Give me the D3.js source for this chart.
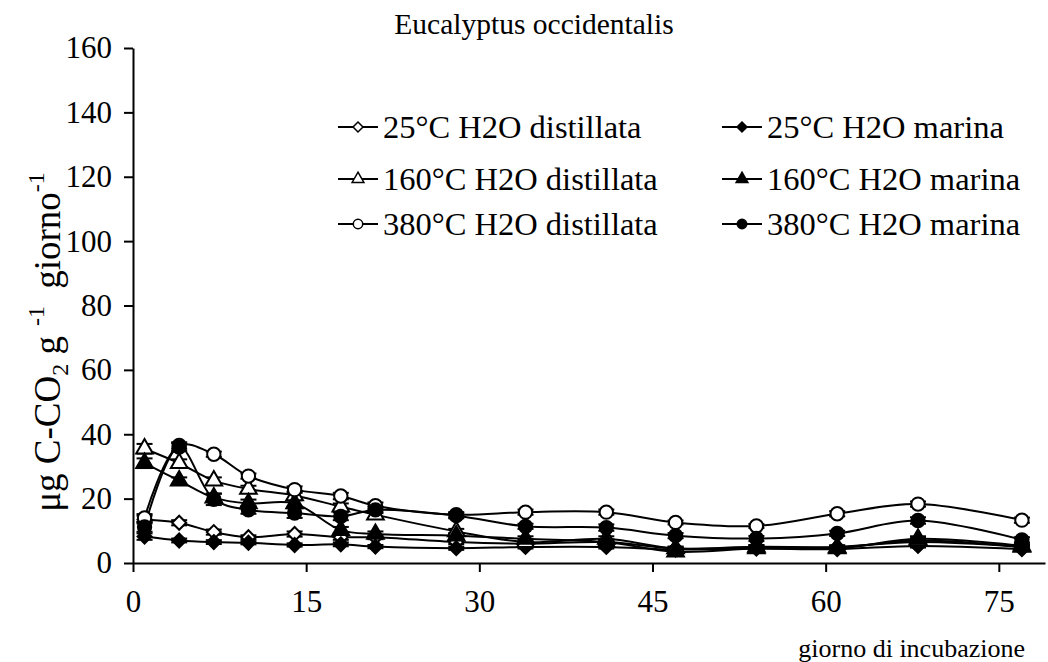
<!DOCTYPE html>
<html><head><meta charset="utf-8">
<script src="https://cdn.jsdelivr.net/npm/d3@7"></script>
<style>
html,body{margin:0;padding:0;background:#fff;}
svg{display:block;}
svg text{font-family:"Liberation Serif","Times New Roman",serif !important;fill:#000;}
</style></head>
<body>
<svg id="chart" width="1048" height="662"></svg>
<script>
const days = [1, 4, 7, 10, 14, 18, 21, 28, 34, 41, 47, 54, 61, 68, 77];
const xTicks = [0, 15, 30, 45, 60, 75];
const yTicks = [0, 20, 40, 60, 80, 100, 120, 140, 160];

const dist25 = [13.5, 12.5, 9.6, 8.0, 9.0, 8.0, 8.0, 6.5, 6.0, 6.5, 4.5, 5.0, 5.0, 6.5, 5.0];
const mar25  = [8.2, 7.0, 6.5, 6.3, 5.6, 5.8, 5.1, 4.6, 5.0, 5.0, 4.2, 4.5, 4.3, 5.3, 4.3];
const dist160 = [35.5, 31.0, 25.6, 23.0, 21.0, 17.5, 15.0, 9.8, 6.5, 7.5, 4.5, 5.0, 4.8, 7.0, 5.0];
const mar160  = [31.0, 25.6, 20.3, 18.5, 18.5, 10.2, 9.0, 8.5, 7.5, 6.5, 3.5, 4.5, 4.5, 7.5, 5.3];
const dist380 = [14.0, 36.5, 33.8, 27.0, 22.8, 20.8, 17.8, 15.0, 15.8, 15.8, 12.6, 11.5, 15.3, 18.3, 13.3];
const mar380  = [11.2, 36.0, 19.8, 16.5, 15.5, 14.5, 16.5, 14.7, 11.4, 11.0, 8.5, 7.6, 9.2, 13.2, 7.2];

const err25d  = [1.2, 0.8, 0.8, 0.6, 0.8, 0.8, 0.6, 0.6, 0.6, 0.6, 0.5, 0.5, 0.5, 0.6, 0.5];
const err25m  = [1.0, 0.6, 0.6, 0.5, 0.5, 0.6, 0.5, 0.5, 0.5, 0.5, 0.5, 0.5, 0.5, 0.5, 0.5];
const err160d = [1.5, 1.2, 1.0, 1.0, 1.2, 1.0, 1.0, 0.8, 0.8, 0.8, 0.6, 0.6, 0.6, 0.8, 0.6];
const err160m = [1.5, 1.0, 1.2, 1.2, 1.0, 1.0, 0.8, 0.8, 0.8, 0.8, 0.6, 0.6, 0.6, 0.8, 0.6];
const err380d = [1.2, 1.0, 0.8, 0.8, 1.0, 1.0, 1.0, 0.8, 0.8, 0.8, 0.6, 0.6, 0.8, 0.8, 0.8];
const err380m = [1.5, 1.2, 1.8, 1.2, 1.5, 1.2, 1.0, 0.8, 0.8, 1.0, 0.8, 0.8, 0.8, 1.0, 0.8];

const seriesNames = ["25°C H2O distillata", "25°C H2O marina", "160°C H2O distillata", "160°C H2O marina", "380°C H2O distillata", "380°C H2O marina"];
const seriesValues = [dist25, mar25, dist160, mar160, dist380, mar380];
const seriesErrors = [err25d, err25m, err160d, err160m, err380d, err380m];
const seriesShapes = ["diamond", "diamond", "triangle", "triangle", "circle", "circle"];
const seriesFilled = [false, true, false, true, false, true];

const svg = d3.select("#chart");
const x = d3.scaleLinear().domain([0, 79]).range([133, 1045]);
const y = d3.scaleLinear().domain([0, 160]).range([563, 48]);

const FONT = "'Liberation Serif', 'Times New Roman', serif";
const TICK_FS = 31;

// axes
const xAxis = svg.append("g").attr("transform", `translate(0,${y(0)})`)
  .call(d3.axisBottom(x).tickValues(xTicks).tickSize(9).tickPadding(18).tickSizeOuter(0));
const yAxis = svg.append("g").attr("transform", `translate(${x(0)},0)`)
  .call(d3.axisLeft(y).tickValues(yTicks).tickSize(9).tickPadding(12).tickSizeOuter(0));
[xAxis, yAxis].forEach(g => {
  g.attr("font-family", null).attr("font-size", null);
  g.select(".domain").attr("stroke", "#000").attr("stroke-width", 2);
  g.selectAll(".tick line").attr("stroke", "#000").attr("stroke-width", 2);
  g.selectAll(".tick text").style("font-family", FONT).style("font-size", TICK_FS + "px").attr("fill", "#000");
});

// Excel-like square diamond
const squareDiamond = {
  draw(ctx, size) {
    const r = Math.sqrt(size / 2);
    ctx.moveTo(0, -r); ctx.lineTo(r, 0); ctx.lineTo(0, r); ctx.lineTo(-r, 0); ctx.closePath();
  }
};
const symbolFor = s => s === "diamond" ? squareDiamond : (s === "triangle" ? d3.symbolTriangle : d3.symbolCircle);
const sizeFor = s => s === "diamond" ? 98 : (s === "triangle" ? 120 : 140);

const line = d3.line().x((d, i) => x(days[i])).y(d => y(d)).curve(d3.curveCatmullRom.alpha(0.5));

const plot = svg.append("g");
seriesValues.forEach((vals) => {
  plot.append("path").attr("d", line(vals)).attr("fill", "none").attr("stroke", "#000").attr("stroke-width", 2);
});
seriesValues.forEach((vals, si) => {
  const errs = seriesErrors[si];
  const g = plot.append("g");
  vals.forEach((v, i) => {
    const cx = x(days[i]);
    g.append("line").attr("x1", cx).attr("x2", cx).attr("y1", y(v - errs[i])).attr("y2", y(v + errs[i])).attr("stroke", "#000").attr("stroke-width", 2);
    [v - errs[i], v + errs[i]].forEach(e => {
      g.append("line").attr("x1", cx - 8).attr("x2", cx + 8).attr("y1", y(e)).attr("y2", y(e)).attr("stroke", "#000").attr("stroke-width", 2);
    });
  });
});
seriesValues.forEach((vals, si) => {
  const sym = d3.symbol().type(symbolFor(seriesShapes[si])).size(sizeFor(seriesShapes[si]));
  plot.append("g").selectAll("path").data(vals).join("path")
    .attr("transform", (d, i) => `translate(${x(days[i])},${y(d)})`)
    .attr("d", sym)
    .attr("fill", seriesFilled[si] ? "#000" : "#fff")
    .attr("stroke", "#000").attr("stroke-width", 2);
});

// title
svg.append("text").attr("x", 534).attr("y", 34).attr("text-anchor", "middle")
  .style("font-family", FONT).style("font-size", "29.5px").text("Eucalyptus occidentalis");

// x label
svg.append("text").attr("x", 1025).attr("y", 657).attr("text-anchor", "end")
  .style("font-family", FONT).style("font-size", "26px").text("giorno di incubazione");

// y label
const yl = svg.append("text").attr("transform", "translate(60,342) rotate(-90)")
  .attr("text-anchor", "middle").style("font-family", FONT).style("font-size", "37px");
yl.append("tspan").text("μg C-CO");
yl.append("tspan").style("font-size", "24px").attr("dy", 8).text("2");
yl.append("tspan").attr("dy", -8).text(" g");
yl.append("tspan").style("font-size", "24px").attr("dy", -16).attr("dx", 4).text(" -1");
yl.append("tspan").attr("dy", 16).attr("dx", 8).text(" giorno");
yl.append("tspan").style("font-size", "24px").attr("dy", -16).text("-1");

// legend
const legendCols = [338, 722];
const legendRows = [127, 179, 224];
seriesNames.forEach((name, si) => {
  const col = si % 2, row = Math.floor(si / 2);
  const lx = legendCols[col], ly = legendRows[row];
  const g = svg.append("g").attr("transform", `translate(${lx},${ly})`);
  g.append("line").attr("x1", 0).attr("x2", 40).attr("y1", 0).attr("y2", 0).attr("stroke", "#000").attr("stroke-width", 2);
  g.append("path").attr("transform", "translate(20,0)")
    .attr("d", d3.symbol().type(symbolFor(seriesShapes[si])).size(sizeFor(seriesShapes[si]) * 0.5)())
    .attr("fill", seriesFilled[si] ? "#000" : "#fff").attr("stroke", "#000").attr("stroke-width", 1.5);
  g.append("text").attr("x", 45).attr("y", 11).style("font-family", FONT).style("font-size", "32.5px").text(name);
});
</script>
</body></html>
